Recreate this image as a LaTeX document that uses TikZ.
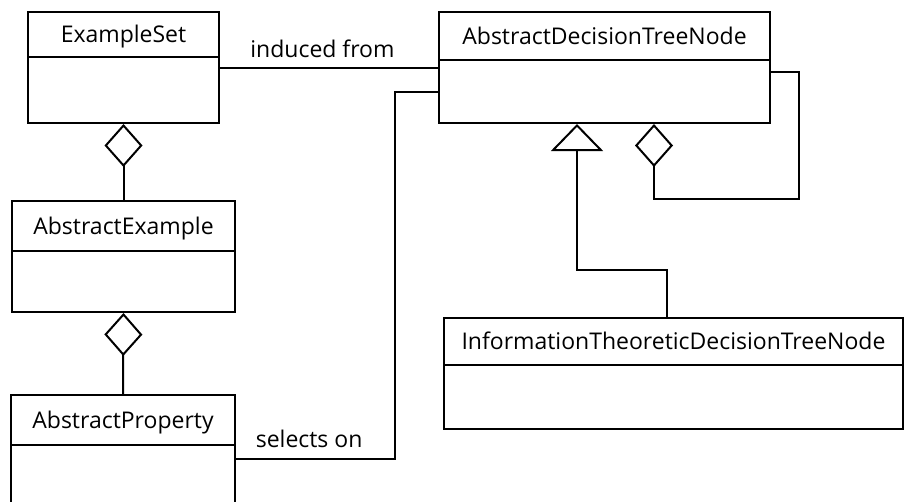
\documentclass[tikz,border=0pt]{standalone}
\usepackage{fontspec}
\setmainfont{Open Sans}
\usetikzlibrary{positioning}
\usetikzlibrary{arrows.meta}

\begin{document}
\begin{tikzpicture}[x=1pt, y=-1pt, line width=2pt,
  cls/.style={draw, anchor=north west, inner sep=0pt, minimum height=111pt},
  clsname/.style={inner sep=0pt, text depth=0pt, font=\fontsize{23}{27}\selectfont},
  lbl/.style={inner sep=0pt, font=\fontsize{23}{27}\selectfont},
  aggr/.style={{Diamond[open, length=43pt, width=38pt]}-},
  gen/.style={-{Triangle[open, length=27pt, width=52pt]}}]
  \clip (0,0) rectangle (905,501);

  % classes
  \node[cls, minimum width=191pt] (es) at (27,11) {};
  \node[cls, minimum width=223pt] (ae) at (11,200) {};
  \node[cls, minimum width=224pt] (ap) at (10,394) {};
  \node[cls, minimum width=331pt] (adtn) at (438,11) {};
  \node[cls, minimum width=459pt] (itdtn) at (443,317) {};

  \node[clsname, below=0pt of es.north, minimum height=44pt] (esname) {ExampleSet};
  \node[clsname, below=0pt of ae.north, minimum height=49pt] (aename) {AbstractExample};
  \node[clsname, below=0pt of ap.north, minimum height=49pt] (apname) {AbstractProperty};
  \node[clsname, below=0pt of adtn.north, minimum height=47pt] (adtnname) {AbstractDecisionTreeNode};
  \node[clsname, below=0pt of itdtn.north, minimum height=46pt] (itdtnname) {InformationTheoreticDecisionTreeNode};

  \draw (es.west |- esname.south) -- (es.east |- esname.south);
  \draw (ae.west |- aename.south) -- (ae.east |- aename.south);
  \draw (ap.west |- apname.south) -- (ap.east |- apname.south);
  \draw (adtn.west |- adtnname.south) -- (adtn.east |- adtnname.south);
  \draw (itdtn.west |- itdtnname.south) -- (itdtn.east |- itdtnname.south);

  % bends
  \coordinate (selA) at (395,459);
  \coordinate (selB) at (395,92);
  \coordinate (genA) at (667,270);
  \coordinate (genB) at (577,270);
  \coordinate (selfA) at (654,199);
  \coordinate (selfB) at (799,199);
  \coordinate (selfC) at (799,72);

  % associations
  \draw[aggr] (es.south) -- (ae.north);
  \draw[aggr] (ae.south) -- (ap.north);
  \draw (es) -- node[lbl, above=9pt, pos=0.47] (induced) {induced from} (adtn);
  \draw (ap.east |- selA) -- node[lbl, above=10pt, pos=0.46] (selects) {selects on} (selA)
    -- (selB) -- (adtn.west |- selB);
  \draw[gen] (itdtn.north -| genA) -- (genA) -- (genB) -- (adtn.south -| genB);
  \draw[aggr] (adtn.south -| selfA) -- (selfA) -- (selfB) -- (selfC) -- (adtn.east |- selfC);
\end{tikzpicture}
\end{document}
